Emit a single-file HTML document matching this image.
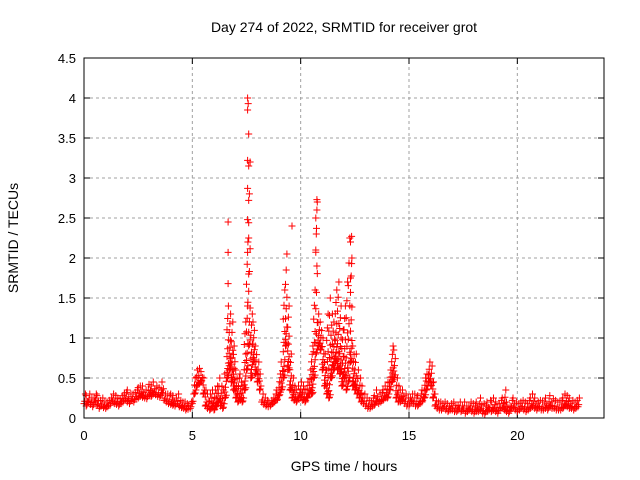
<!DOCTYPE html>
<html><head><meta charset="utf-8"><style>
body{margin:0;background:#fff;}
svg{display:block;font-family:"Liberation Sans",sans-serif;}
</style></head><body>
<svg id="c" width="640" height="480">
<text x="344" y="32" text-anchor="middle" font-size="14">Day 274 of 2022, SRMTID for receiver grot</text>
<text x="18" y="238" text-anchor="middle" font-size="14" transform="rotate(-90 18 238)">SRMTID / TECUs</text>
<text x="344" y="471" text-anchor="middle" font-size="14">GPS time / hours</text>
<g id="grid"></g>
<g id="ticks"></g>
<g id="pts"></g>
<rect x="84" y="58" width="520" height="360" fill="none" stroke="#000" stroke-width="1"/>
</svg>
<script>
const xTicks=[0,5,10,15,20];
const yTicks=[0,0.5,1,1.5,2,2.5,3,3.5,4,4.5];
const yTickLabels=["0","0.5","1","1.5","2","2.5","3","3.5","4","4.5"];
const tStart=0, tStep=0.1;
const loVals=[.18,.15,.2,.17,.14,.2,.16,.12,.15,.13,
.12,.14,.16,.2,.18,.17,.15,.18,.2,.22,
.2,.18,.22,.2,.24,.25,.27,.26,.25,.24,
.28,.27,.3,.29,.27,.26,.3,.22,.2,.18,
.17,.16,.15,.18,.14,.13,.12,.1,.11,.12,
.18,.3,.4,.42,.45,.3,.15,.12,.1,.12,
.1,.15,.2,.15,.12,.25,.5,.6,.45,.35,
.25,.2,.22,.2,.35,.6,.9,.5,.7,.55,
.45,.35,.2,.17,.15,.14,.15,.18,.2,.22,
.28,.35,.5,.9,.6,.35,.25,.22,.2,.25,
.25,.22,.2,.25,.3,.3,.5,.8,.9,.85,
.6,.4,.3,.25,.5,.6,.7,.6,.55,.4,
.5,.35,.45,.7,.4,.35,.3,.25,.2,.18,
.15,.12,.12,.14,.16,.2,.18,.2,.22,.25,
.25,.35,.45,.5,.25,.2,.2,.22,.18,.15,
.15,.2,.18,.15,.15,.18,.2,.25,.35,.45,
.4,.25,.15,.12,.1,.1,.12,.1,.08,.1,
.1,.08,.08,.1,.08,.1,.06,.08,.1,.08,
.06,.08,.08,.1,.06,.05,.08,.1,.08,.1,
.08,.06,.1,.12,.1,.08,.06,.1,.12,.1,
.08,.1,.12,.1,.08,.1,.12,.14,.12,.1,
.12,.1,.1,.12,.1,.14,.12,.12,.1,.1,
.1,.12,.15,.14,.12,.12,.1,.12,.14];
const hiVals=[.3,.28,.3,.25,.25,.3,.28,.22,.25,.2,
.2,.22,.25,.3,.28,.25,.24,.28,.3,.32,
.35,.3,.3,.32,.35,.38,.4,.4,.35,.35,
.42,.4,.45,.4,.38,.35,.45,.3,.3,.28,
.3,.28,.25,.3,.22,.2,.2,.18,.16,.2,
.3,.5,.6,.62,.58,.5,.35,.3,.3,.35,
.35,.4,.5,.4,.35,.55,1.4,1.3,1.2,.9,
.6,.5,.55,.4,1.2,2.2,3.2,1.3,1.2,.9,
.7,.55,.3,.25,.22,.2,.22,.25,.3,.35,
.55,.7,1.6,2.05,1.4,.8,.5,.4,.35,.4,
.45,.4,.35,.45,.6,.9,1.6,2.7,1.3,1.2,
1.0,.8,1.3,1.5,1.3,1.2,1.6,1.7,1.4,1.1,
1.4,1.7,2.25,2.0,.9,.8,.6,.5,.4,.3,
.25,.22,.2,.25,.28,.35,.3,.32,.35,.4,
.45,.6,.9,.85,.5,.4,.35,.35,.3,.25,
.25,.3,.3,.25,.28,.3,.35,.5,.55,.7,
.65,.45,.3,.2,.2,.18,.2,.18,.15,.18,
.2,.16,.15,.2,.15,.2,.15,.15,.2,.18,
.15,.2,.18,.25,.18,.15,.2,.22,.2,.25,
.2,.18,.22,.25,.35,.2,.15,.22,.25,.2,
.18,.2,.22,.2,.18,.22,.25,.3,.25,.2,
.22,.2,.2,.25,.2,.28,.24,.22,.2,.2,
.22,.25,.3,.28,.25,.22,.2,.22,.25];
const spikeTimes=[6.65,6.65,6.65,7.55,7.58,7.55,7.6,7.55,7.6,7.55,7.6,7.55,7.6,7.55,7.6,7.55,9.6,10.75,10.75,10.7,10.72,10.7,10.75,12.35,12.3,12.35,12.3];
const spikeVals=[2.45,2.07,1.68,4.0,3.93,3.85,3.55,3.22,3.15,2.87,2.72,2.48,2.25,2.07,1.8,1.4,2.4,2.73,2.6,2.5,2.3,2.1,1.9,2.27,2.2,1.93,1.75];

const NS="http://www.w3.org/2000/svg";
const X0=84,X1=604,Y0=418,Y1=58,XMAX=24,YMAX=4.5;
function xs(t){return X0+(X1-X0)*t/XMAX;}
function ys(v){return Y0-(Y0-Y1)*v/YMAX;}
function mk(tag,attrs,parent){const e=document.createElementNS(NS,tag);for(const k in attrs)e.setAttribute(k,attrs[k]);parent.appendChild(e);return e;}
const grid=document.getElementById('grid'),ticks=document.getElementById('ticks'),pts=document.getElementById('pts');
xTicks.forEach(t=>{const x=xs(t);
 if(t>0){const l=mk('line',{x1:x,y1:Y0,x2:x,y2:Y1,stroke:'#a0a0a0','stroke-dasharray':'3,3'},grid);
 
 }
 mk('line',{x1:x,y1:Y0,x2:x,y2:Y0-6,stroke:'#000'},ticks);
 mk('line',{x1:x,y1:Y1,x2:x,y2:Y1+6,stroke:'#000'},ticks);
 const tx=mk('text',{x:x,y:Y0+22,'text-anchor':'middle','font-size':13},ticks);tx.textContent=String(t);
 
 
});
yTicks.forEach((v,i)=>{const y=ys(v);
 if(v>0&&v<YMAX){const l=mk('line',{x1:X0,y1:y,x2:X1,y2:y,stroke:'#a0a0a0','stroke-dasharray':'3,3'},grid);
 
 }
 mk('line',{x1:X0,y1:y,x2:X0+6,y2:y,stroke:'#000'},ticks);
 mk('line',{x1:X1,y1:y,x2:X1-6,y2:y,stroke:'#000'},ticks);
 const tx=mk('text',{x:X0-8,y:y+5,'text-anchor':'end','font-size':13},ticks);tx.textContent=yTickLabels[i];
 
 
});
let d='';
function plus(t,v){const x=xs(t),y=ys(v);d+=`M${(x-3.5).toFixed(1)} ${y.toFixed(1)}h7M${x.toFixed(1)} ${(y-3.5).toFixed(1)}v7`;}
loVals.forEach((lo,i)=>{const hi=hiVals[i];const t=tStart+i*tStep;
 const n=Math.max(2,Math.min(12,Math.ceil((hi-lo)/0.06)+1));
 for(let k=0;k<n;k++){const f=k/(n-1);plus(t+(k%3)*0.033,lo+(hi-lo)*f*f);}
});
spikeTimes.forEach((t,i)=>plus(t,spikeVals[i]));
const p=mk('path',{d:d,stroke:'#ff0000','stroke-width':1,fill:'none'},pts);


</script>
</body></html>
